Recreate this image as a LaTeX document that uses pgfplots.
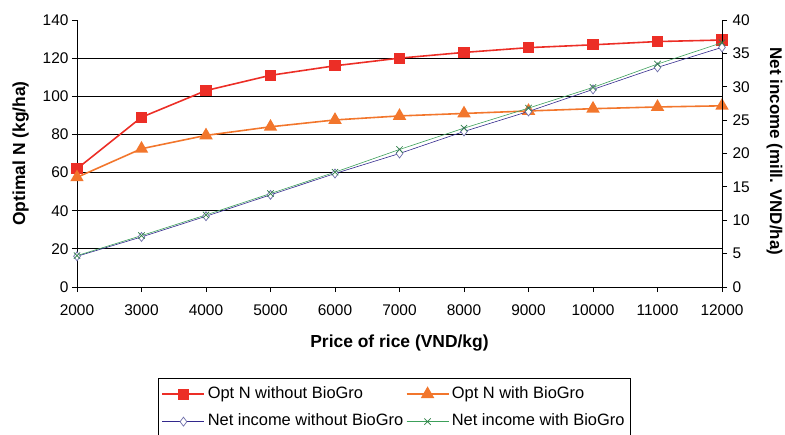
\documentclass[border=0pt]{standalone}
\usepackage{fontspec}
\setmainfont{Liberation Sans}
\usepackage{pgfplots}
\pgfplotsset{compat=1.18}
\usetikzlibrary{calc}

\definecolor{optred}{RGB}{236,46,38}
\definecolor{optorange}{RGB}{242,118,44}
\definecolor{netblue}{RGB}{50,40,140}
\definecolor{netmark}{RGB}{110,110,170}
\definecolor{netgreen}{RGB}{60,160,90}

\pgfplotsset{
  common/.style={
    scale only axis, width=645bp, height=267bp,
    xmin=2000, xmax=12000, clip=false,
    scaled x ticks=false, scaled y ticks=false,
    /pgf/number format/assume math mode=true,
    /pgf/number format/1000 sep={},
    tick label style={font=\fontsize{15.5}{18}\selectfont},
    label style={font=\bfseries\fontsize{17.5}{20}\selectfont},
    tick align=outside, major tick length=5bp,
    tick style={black, line width=0.8pt},
    axis line style={black, line width=0.9pt},
  },
  optwo/.style={optred, line width=1.6pt, mark=square*, mark size=4.8bp, mark options={solid, fill=optred, draw=optred}},
  optw/.style={optorange, line width=1.6pt, mark=triangle*, mark size=6.2bp, mark options={solid, fill=optorange, draw=optorange}},
  netwo/.style={netblue, line width=0.6pt, mark=diamond*, mark size=4.5bp, mark options={solid, fill=white, draw=netmark, line width=0.7pt}},
  netw/.style={netgreen, line width=0.6pt, mark=x, mark size=4.5bp, mark options={solid, draw=netgreen!80!black, line width=0.7pt}},
}

\begin{document}
\begin{tikzpicture}
% Optimal N on the left axis
\begin{axis}[common, name=main,
  axis x line*=bottom, axis y line*=left,
  ymin=0, ymax=140, ytick distance=20, xtick distance=1000,
  extra y ticks={20,40,60,80,100,120}, extra y tick labels={},
  extra y tick style={grid=major, major tick length=0pt},
  major grid style={black, line width=0.8pt},
  xticklabel style={yshift=-9bp},
  xlabel={Price of rice (VND/kg)}, ylabel={Optimal N (kg/ha)},
  xlabel style={yshift=-13bp}, ylabel style={yshift=2bp},
]
\coordinate (ll) at (rel axis cs:0,0);
\coordinate (ur) at (rel axis cs:1,1);
\addplot[optwo] coordinates {
  (2000,62) (3000,89) (4000,103) (5000,111) (6000,116) (7000,120)
  (8000,123) (9000,125.5) (10000,127) (11000,128.7) (12000,129.5)};
\addplot[optw] coordinates {
  (2000,57.5) (3000,72.5) (4000,79.5) (5000,84) (6000,87.6) (7000,89.7)
  (8000,91) (9000,92.3) (10000,93.5) (11000,94.4) (12000,95)};
\end{axis}
% Net income on the right axis
\begin{axis}[common,
  axis x line=none, axis y line*=right,
  ymin=0, ymax=40, ytick distance=5,
  yticklabel style={xshift=2bp},
  ylabel={Net income (mill. VND/ha)},
  ylabel style={rotate=180, xshift=-2bp, yshift=10bp, font=\bfseries\fontsize{17}{20}\selectfont},
  legend columns=2, legend cell align=left,
  legend image code/.code={\draw[mark repeat=2, mark phase=2] plot coordinates {(0bp,0bp) (21bp,0bp) (42bp,0bp)};},
  legend style={at={(0.492,-0.341)}, anchor=north, draw=black, line width=0.7pt,
    font=\fontsize{16.5}{19}\selectfont, inner xsep=3bp, inner ysep=6bp,
    column sep=0bp, row sep=8bp,
    nodes={inner xsep=2.5bp, inner ysep=2bp, text height=12bp, text depth=3.5bp}},
]
\addlegendimage{optwo}
\addlegendentry{Opt N without BioGro}
\addlegendimage{optw}
\addlegendentry{Opt N with BioGro}
\addplot[netwo] coordinates {
  (2000,4.6) (3000,7.5) (4000,10.6) (5000,13.8) (6000,17.0) (7000,20.0)
  (8000,23.3) (9000,26.3) (10000,29.6) (11000,32.9) (12000,35.9)};
\addlegendentry{Net income without BioGro}
\addplot[netw] coordinates {
  (2000,4.7) (3000,7.7) (4000,10.8) (5000,14.0) (6000,17.2) (7000,20.6)
  (8000,23.8) (9000,26.8) (10000,29.9) (11000,33.4) (12000,36.6)};
\addlegendentry{Net income with BioGro}
\end{axis}
\pgfresetboundingbox
\path[use as bounding box] ($(ll)+(-77bp,-148bp)$) rectangle ($(ur)+(63bp,20bp)$);
\end{tikzpicture}
\end{document}
